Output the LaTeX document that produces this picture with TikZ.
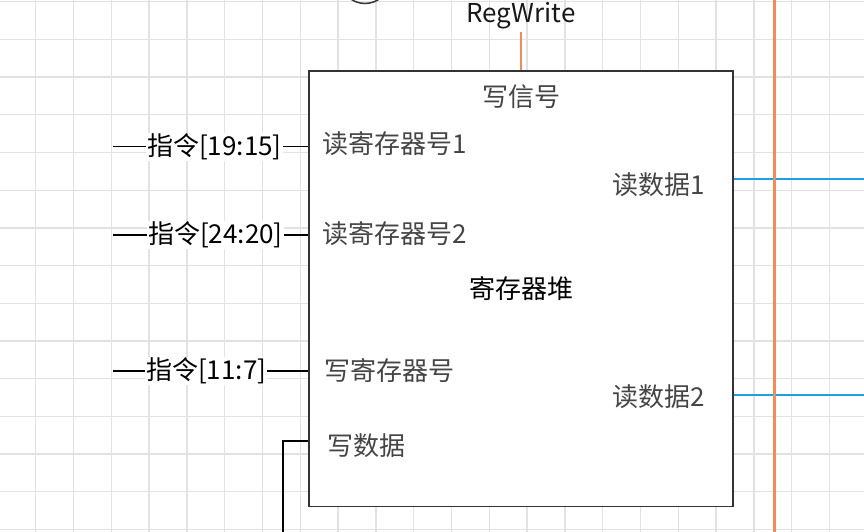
\documentclass[tikz,border=0pt]{standalone}
\usepackage{fontspec}
\setmainfont{Noto Sans CJK SC}
\definecolor{gridc}{HTML}{E2E2E2}
\definecolor{boxc}{HTML}{333333}
\definecolor{portc}{HTML}{454545}
\definecolor{orangec}{HTML}{F08C5A}
\definecolor{bluec}{HTML}{1BA1E2}
\tikzset{
  gridline/.style={gridc, line width=1.3pt},
  regbox/.style={draw=boxc, fill=white, line width=1.6pt, inner sep=0pt, text=black},
  port/.style={text=portc, inner sep=0pt, font=\fontsize{26}{30}\selectfont},
  inlabel/.style={fill=white, text=black, inner sep=1pt, font=\fontsize{26}{30}\selectfont},
  wire/.style={black, line width=1.4pt},
  bluewire/.style={bluec, line width=1.8pt},
}
\begin{document}
\begin{tikzpicture}[x=1pt, y=-1pt]
\useasboundingbox (0,0) rectangle (864,532);
\begin{scope}
\clip (0,0) rectangle (864,532);
% grid
\foreach \k in {0,...,21} \draw[gridline] (35.7+37.8*\k,0) -- (35.7+37.8*\k,532);
\foreach \k in {0,...,14} \draw[gridline] (0,1.7+37.7*\k) -- (864,1.7+37.7*\k);
% partial circle at top
\draw[boxc, line width=1.5pt] (365,-21.5) circle[radius=25];
\end{scope}
% register file
\node[regbox, minimum width=424pt, minimum height=435.5pt, font=\fontsize{26}{30}\selectfont] (rf) at (521,288.75) {寄存器堆};
% RegWrite
\node[text=black!90, inner sep=0pt, font=\fontsize{26}{30}\selectfont] (rw) at (521,16) {RegWrite};
\coordinate (rwend) at (521,32);
\draw[orangec, line width=1.5pt] (rwend) -- (rf.north);
% ports
\node[port] (ws) at (521,97) {写信号};
\node[port, anchor=west] (rr1) at (322,144) {读寄存器号1};
\node[port, anchor=west] (rr2) at (322,234) {读寄存器号2};
\node[port, anchor=west] (wr) at (324,371) {写寄存器号};
\node[port, anchor=west] (wd) at (327,446) {写数据};
\node[port, anchor=east] (rd1) at (705,185) {读数据1};
\node[port, anchor=east] (rd2) at (705,396.5) {读数据2};
% inputs
\coordinate (i1) at (113,146.7);
\coordinate (i2) at (113,235);
\coordinate (i3) at (113,371);
\draw[wire] (i1) -- (rf.west |- i1);
\draw[wire] (i2) -- (rf.west |- i2);
\draw[wire] (i3) -- (rf.west |- i3);
\node[inlabel, anchor=west] (l1) at (146,146.7) {指令[19:15]};
\node[inlabel, anchor=west] (l2) at (147,235) {指令[24:20]};
\node[inlabel, anchor=west] (l3) at (145,371) {指令[11:7]};
% write data wire
\coordinate (wdy) at (309,441);
\coordinate (wdend) at (283,532);
\draw[wire] (rf.west |- wdy) -| (wdend);
% outputs
\coordinate (o1) at (864,178.7);
\coordinate (o2) at (864,395);
\draw[bluewire] (rf.east |- o1) -- (o1);
\draw[bluewire] (rf.east |- o2) -- (o2);
% orange bus
\coordinate (ob1) at (774.3,0);
\coordinate (ob2) at (774.3,532);
\draw[orangec, line width=3.3pt] (ob1) -- (ob2);
\end{tikzpicture}
\end{document}
